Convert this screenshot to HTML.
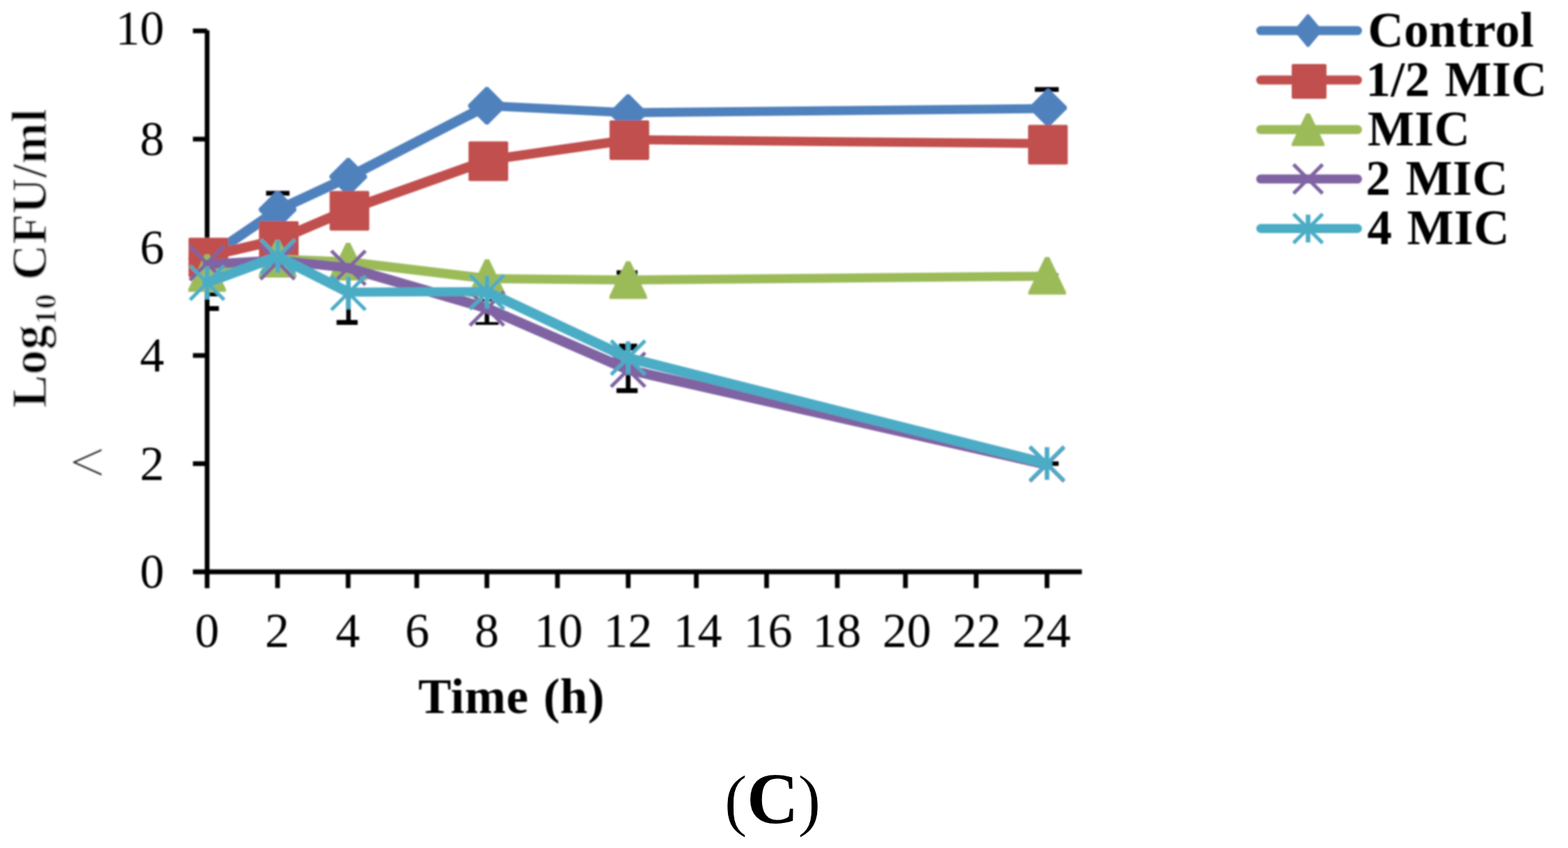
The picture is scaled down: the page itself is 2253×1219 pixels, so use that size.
<!DOCTYPE html>
<html lang="en"><head><meta charset="utf-8"><title>Time-kill curve (C)</title>
<style>
html,body{margin:0;padding:0;background:#fff;}
body{width:2253px;height:1219px;overflow:hidden;}
svg{display:block;}
text{font-family:"Liberation Serif","Times New Roman",serif;fill:#000;}
.tick{font-size:70px;}
.b{font-weight:bold;font-size:71px;letter-spacing:0.5px;word-spacing:3px;}
</style></head><body>
<svg width="2253" height="1219" viewBox="0 0 2253 1219">
<rect width="2253" height="1219" fill="#fff"/>
<defs><filter id="soft" x="0" y="0" width="2253" height="1219" filterUnits="userSpaceOnUse"><feGaussianBlur stdDeviation="0.9"/></filter></defs>
<g filter="url(#soft)">
<g stroke="#000" stroke-width="6.8" fill="none">
<path d="M297.6,43.6V845.4"/>
<path d="M277.2,822H1554.5"/>
<path d="M277.2,44.4H297.6"/>
<path d="M277.2,200.0H297.6"/>
<path d="M277.2,355.4H297.6"/>
<path d="M277.2,511.0H297.6"/>
<path d="M277.2,666.5H297.6"/>
<path d="M398.8,822V845.4"/>
<path d="M500.2,822V845.4"/>
<path d="M598.8,822V845.4"/>
<path d="M699.6,822V845.4"/>
<path d="M801.0,822V845.4"/>
<path d="M902.6,822V845.4"/>
<path d="M1000.5,822V845.4"/>
<path d="M1101.5,822V845.4"/>
<path d="M1203.1,822V845.4"/>
<path d="M1301.0,822V845.4"/>
<path d="M1402.6,822V845.4"/>
<path d="M1504.4,822V845.4"/>
</g>
<text class="tick" x="236" y="64.1" text-anchor="end">10</text>
<text class="tick" x="236" y="223.1" text-anchor="end">8</text>
<text class="tick" x="236" y="378.5" text-anchor="end">6</text>
<text class="tick" x="236" y="534.1" text-anchor="end">4</text>
<text class="tick" x="236" y="689.6" text-anchor="end">2</text>
<text class="tick" x="236" y="845.1" text-anchor="end">0</text>
<text class="tick" x="297.6" y="930.3" text-anchor="middle">0</text>
<text class="tick" x="398.3" y="930.3" text-anchor="middle">2</text>
<text class="tick" x="499.8" y="930.3" text-anchor="middle">4</text>
<text class="tick" x="599.5" y="930.3" text-anchor="middle">6</text>
<text class="tick" x="699.6" y="930.3" text-anchor="middle">8</text>
<text class="tick" x="802.6" y="930.3" text-anchor="middle">10</text>
<text class="tick" x="902.2" y="930.3" text-anchor="middle">12</text>
<text class="tick" x="1002.6" y="930.3" text-anchor="middle">14</text>
<text class="tick" x="1103.6" y="930.3" text-anchor="middle">16</text>
<text class="tick" x="1202.6" y="930.3" text-anchor="middle">18</text>
<text class="tick" x="1303.0" y="930.3" text-anchor="middle">20</text>
<text class="tick" x="1403.6" y="930.3" text-anchor="middle">22</text>
<text class="tick" x="1503.6" y="930.3" text-anchor="middle">24</text>
<text transform="translate(125.4,664.9) scale(1.26,1.14)" x="0" y="23.8" text-anchor="middle" style="font-size:72px;fill:#000;stroke:#fff;stroke-width:0.7px">&lt;</text>
<text class="b" style="letter-spacing:0.4px;word-spacing:1px;stroke:#fff;stroke-width:1px" transform="translate(66.2,586.3) rotate(-90)">Log<tspan dy="14" style="font-size:44px">10</tspan><tspan dy="-14"> CFU/ml</tspan></text>
<text class="b" x="601" y="1024.8">Time (h)</text>
<g fill="#000"><rect x="382.3" y="274.4" width="33.7" height="6.8"/><rect x="395.5" y="278.0" width="6.7" height="22.0"/><rect x="1486.9" y="125.2" width="34.3" height="6.8"/><rect x="1501.0" y="128.0" width="6.8" height="28.0"/><rect x="297.6" y="420.0" width="16.9" height="6.0"/><rect x="297.6" y="440.0" width="16.9" height="7.0"/><rect x="483.6" y="460.0" width="30.3" height="7.0"/><rect x="497.5" y="421.0" width="6.4" height="42.0"/><rect x="683.2" y="463.0" width="33.3" height="4.0"/><rect x="696.4" y="444.0" width="6.5" height="21.0"/><rect x="692.9" y="429.8" width="3.5" height="3.6"/><rect x="703.2" y="429.8" width="3.6" height="3.6"/><rect x="886.0" y="388.6" width="30.0" height="6.8"/><rect x="889.3" y="494.0" width="26.4" height="10.0"/><rect x="885.8" y="558.0" width="30.4" height="7.0"/><rect x="899.2" y="494.0" width="6.7" height="67.0"/><rect x="1516.9" y="392.9" width="3.6" height="3.6"/><rect x="1487.0" y="663.2" width="34.1" height="6.5"/></g>
<g>
<g fill="none" stroke="#4f81bd" stroke-linecap="round"><path d="M297.6,371.0L398.8,302.0" stroke-width="14.5"/><path d="M398.8,302.0L500.2,255.0" stroke-width="14.5"/><path d="M500.2,255.0L699.6,152.0" stroke-width="14.5"/><path d="M699.6,152.0L902.6,162.0" stroke-width="13.2"/><path d="M902.6,162.0L1504.4,156.0" stroke-width="13.0"/></g>
<polygon points="295.9,344.5 299.3,344.5 324.6,369.8 324.6,373.2 299.3,398.5 295.9,398.5 270.6,373.2 270.6,369.8" fill="#4f81bd"/>
<polygon points="397.1,274.3 400.5,274.3 425.8,299.6 425.8,303.0 400.5,328.3 397.1,328.3 371.8,303.0 371.8,299.6" fill="#4f81bd"/>
<polygon points="498.7,227.0 502.1,227.0 527.4,252.3 527.4,255.7 502.1,281.0 498.7,281.0 473.4,255.7 473.4,252.3" fill="#4f81bd"/>
<polygon points="697.9,125.1 701.3,125.1 726.6,150.4 726.6,153.8 701.3,179.1 697.9,179.1 672.6,153.8 672.6,150.4" fill="#4f81bd"/>
<polygon points="900.8,135.6 904.2,135.6 929.5,160.9 929.5,164.3 904.2,189.6 900.8,189.6 875.5,164.3 875.5,160.9" fill="#4f81bd"/>
<polygon points="1504.3,128.0 1507.7,128.0 1533.0,153.3 1533.0,156.7 1507.7,182.0 1504.3,182.0 1479.0,156.7 1479.0,153.3" fill="#4f81bd"/>
</g>
<g>
<g fill="none" stroke="#c0504d" stroke-linecap="round"><path d="M299.4,368.0L400.6,344.5" stroke-width="14.4"/><path d="M400.6,344.5L502.0,301.0" stroke-width="14.5"/><path d="M502.0,301.0L701.6,230.0" stroke-width="14.5"/><path d="M701.6,230.0L904.0,200.8" stroke-width="13.8"/><path d="M904.0,200.8L1505.6,206.5" stroke-width="13.0"/></g>
<rect x="270.9" y="341.8" width="57.0" height="57.0" rx="2" fill="#c0504d"/>
<rect x="372.1" y="318.0" width="57.0" height="57.0" rx="2" fill="#c0504d"/>
<rect x="473.6" y="274.4" width="57.0" height="57.0" rx="2" fill="#c0504d"/>
<rect x="673.2" y="203.2" width="57.0" height="57.0" rx="2" fill="#c0504d"/>
<rect x="875.8" y="173.0" width="57.0" height="57.0" rx="2" fill="#c0504d"/>
<rect x="1477.2" y="179.5" width="57.0" height="57.0" rx="2" fill="#c0504d"/>
</g>
<g>
<g fill="none" stroke="#9bbb59" stroke-linecap="round"><path d="M297.6,393.0L398.8,372.5" stroke-width="14.2"/><path d="M398.8,372.5L500.2,376.5" stroke-width="13.2"/><path d="M500.2,376.5L699.6,400.5" stroke-width="13.7"/><path d="M699.6,400.5L902.6,402.5" stroke-width="13.0"/><path d="M902.6,402.5L1504.4,397.0" stroke-width="13.0"/></g>
<polygon points="294.6,365.4 300.6,365.4 324.6,415.6 324.6,419.6 270.6,419.6 270.6,415.6" fill="#9bbb59"/>
<polygon points="395.8,344.7 401.8,344.7 425.8,394.9 425.8,398.9 371.8,398.9 371.8,394.9" fill="#9bbb59"/>
<polygon points="497.2,349.0 503.2,349.0 527.2,399.2 527.2,403.2 473.2,403.2 473.2,399.2" fill="#9bbb59"/>
<polygon points="696.8,372.8 702.8,372.8 726.8,423.0 726.8,427.0 672.8,427.0 672.8,423.0" fill="#9bbb59"/>
<polygon points="899.6,375.6 905.6,375.6 929.6,425.8 929.6,429.8 875.6,429.8 875.6,425.8" fill="#9bbb59"/>
<polygon points="1501.6,369.4 1507.6,369.4 1531.6,419.6 1531.6,423.6 1477.6,423.6 1477.6,419.6" fill="#9bbb59"/>
</g>
<g>
<g fill="none" stroke="#8064a2" stroke-linecap="round"><path d="M297.6,380.0L398.8,374.0" stroke-width="13.3"/><path d="M398.8,374.0L500.2,385.0" stroke-width="13.6"/><path d="M500.2,385.0L699.6,443.0" stroke-width="14.5"/><path d="M699.6,443.0L902.6,531.5" stroke-width="14.5"/><path d="M902.6,531.5L1504.4,668.0" stroke-width="14.4"/></g>
<path d="M272.8,353.8L321.8,402.8M272.8,402.8L321.8,353.8" stroke="#8064a2" stroke-width="5.2" fill="none"/>
<path d="M374.3,352.5L423.3,401.5M374.3,401.5L423.3,352.5" stroke="#8064a2" stroke-width="5.2" fill="none"/>
<path d="M476.1,360.5L525.1,409.5M476.1,409.5L525.1,360.5" stroke="#8064a2" stroke-width="5.2" fill="none"/>
<path d="M675.1,419.0L724.1,468.0M675.1,468.0L724.1,419.0" stroke="#8064a2" stroke-width="5.2" fill="none"/>
<path d="M878.0,507.0L927.0,556.0M878.0,556.0L927.0,507.0" stroke="#8064a2" stroke-width="5.2" fill="none"/>
<path d="M1479.9,643.0L1528.9,692.0M1479.9,692.0L1528.9,643.0" stroke="#8064a2" stroke-width="5.2" fill="none"/>
</g>
<g>
<g fill="none" stroke="#4bacc6" stroke-linecap="round"><path d="M297.6,406.2L398.8,368.8" stroke-width="14.5"/><path d="M398.8,368.8L500.2,420.0" stroke-width="14.5"/><path d="M500.2,420.0L699.6,419.2" stroke-width="12.9"/><path d="M699.6,419.2L902.6,514.6" stroke-width="14.5"/><path d="M902.6,514.6L1504.4,666.5" stroke-width="14.5"/></g>
<path d="M273.1,382.0L322.1,431.0M273.1,431.0L322.1,382.0" stroke="#4bacc6" stroke-width="5.2" fill="none"/><path d="M297.6,383.0V430.0" stroke="#4bacc6" stroke-width="6.6" fill="none"/>
<path d="M374.7,344.3L423.7,393.3M374.7,393.3L423.7,344.3" stroke="#4bacc6" stroke-width="5.2" fill="none"/><path d="M399.2,345.3V392.3" stroke="#4bacc6" stroke-width="6.6" fill="none"/>
<path d="M476.1,396.5L525.1,445.5M476.1,445.5L525.1,396.5" stroke="#4bacc6" stroke-width="5.2" fill="none"/><path d="M500.6,397.5V444.5" stroke="#4bacc6" stroke-width="6.6" fill="none"/>
<path d="M675.3,395.5L724.3,444.5M675.3,444.5L724.3,395.5" stroke="#4bacc6" stroke-width="5.2" fill="none"/><path d="M699.8,396.5V443.5" stroke="#4bacc6" stroke-width="6.6" fill="none"/>
<path d="M878.0,489.7L927.0,538.7M878.0,538.7L927.0,489.7" stroke="#4bacc6" stroke-width="5.2" fill="none"/><path d="M902.5,490.7V537.7" stroke="#4bacc6" stroke-width="6.6" fill="none"/>
<path d="M1479.9,641.8L1528.9,690.8M1479.9,690.8L1528.9,641.8" stroke="#4bacc6" stroke-width="5.2" fill="none"/><path d="M1504.4,642.8V689.8" stroke="#4bacc6" stroke-width="6.6" fill="none"/>
</g>
<path d="M1811.5,44.1H1950.5" stroke="#4f81bd" stroke-width="13" stroke-linecap="round" fill="none"/>
<polygon points="1878.3,20.6 1880.7,20.6 1899.0,42.6 1899.0,45.6 1880.7,67.6 1878.3,67.6 1860.0,45.6 1860.0,42.6" fill="#4f81bd"/>
<text class="b" x="1965.5" y="67.0">Control</text>
<path d="M1811.5,115.1H1950.5" stroke="#c0504d" stroke-width="13" stroke-linecap="round" fill="none"/>
<rect x="1856.0" y="92.1" width="50.0" height="50.0" rx="2" fill="#c0504d"/>
<text class="b" x="1962.5" y="138.0">1/2 MIC</text>
<path d="M1811.5,186.3H1950.5" stroke="#9bbb59" stroke-width="13" stroke-linecap="round" fill="none"/>
<polygon points="1876.9,163.1 1882.1,163.1 1903.0,206.4 1903.0,209.9 1856.0,209.9 1856.0,206.4" fill="#9bbb59"/>
<text class="b" x="1965" y="209.2">MIC</text>
<path d="M1811.5,257.3H1950.5" stroke="#8064a2" stroke-width="13" stroke-linecap="round" fill="none"/>
<path d="M1858.6,236.4L1900.4,278.2M1858.6,278.2L1900.4,236.4" stroke="#8064a2" stroke-width="5.2" fill="none"/>
<text class="b" x="1962.5" y="280.2">2 MIC</text>
<path d="M1811.5,328.5H1950.5" stroke="#4bacc6" stroke-width="13" stroke-linecap="round" fill="none"/>
<path d="M1858.6,307.6L1900.4,349.4M1858.6,349.4L1900.4,307.6" stroke="#4bacc6" stroke-width="5.2" fill="none"/><path d="M1879.5,308.5V348.5" stroke="#4bacc6" stroke-width="6.6" fill="none"/>
<text class="b" x="1964.5" y="351.4">4 MIC</text>
</g>
<text x="1040.6" y="1183" style="font-size:100px;stroke:#fff;stroke-width:0.8px">(<tspan style="font-weight:bold;font-size:103px;stroke:none" dx="-1">C</tspan><tspan dx="-1">)</tspan></text>
</svg></body></html>
